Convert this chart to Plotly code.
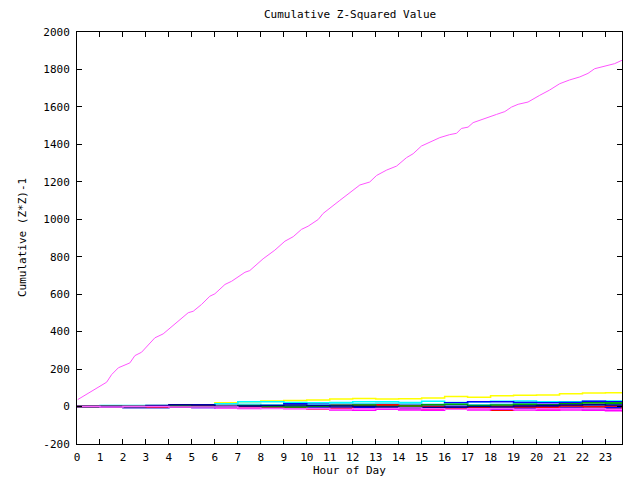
import plotly.graph_objects as go

# ---- data ----
hours = [0, 1, 2, 3, 4, 5, 6, 7, 8, 9, 10, 11, 12, 13, 14, 15, 16, 17, 18, 19, 20, 21, 22, 23, 23.72]

big_x = [0.03, 0.64, 1.29, 1.51, 1.80, 2.30, 2.52, 2.81, 3.39, 3.75, 4.26, 4.84, 5.06, 5.42, 5.78,
         6.00, 6.44, 6.73, 7.31, 7.52, 8.10, 8.61, 9.05, 9.41, 9.77, 10.06, 10.50, 10.71, 11.44,
         11.88, 12.31, 12.74, 13.04, 13.48, 13.91, 14.34, 14.63, 14.99, 15.36, 15.79, 16.22,
         16.52, 16.73, 17.02, 17.24, 17.82, 18.26, 18.62, 18.91, 19.20, 19.63, 20.14, 20.57,
         21.01, 21.44, 21.88, 22.24, 22.53, 23.11, 23.40, 23.72]
big_y = [37, 82, 130, 171, 207, 233, 272, 290, 367, 388, 443, 501, 509, 545, 589,
         602, 652, 669, 717, 726, 789, 835, 883, 907, 946, 963, 999, 1031, 1101,
         1142, 1183, 1199, 1234, 1263, 1284, 1329, 1350, 1391, 1412, 1436, 1452,
         1459, 1485, 1492, 1516, 1543, 1560, 1575, 1599, 1614, 1626, 1662, 1690,
         1724, 1744, 1760, 1779, 1804, 1822, 1831, 1849]

small_series = {
    "yellow":     [0, -2, -2, 0, 2, 8, 20, 25, 30, 32, 35, 40, 43, 40, 42, 45, 53, 50, 58, 60, 62, 68, 72, 73, 73],
    "cyan":       [0, 5, 5, 5, 5, 5, 15, 25, 25, 22, 20, 22, 25, 25, 22, 28, 22, 25, 28, 30, 25, 25, 28, 30, 30],
    "blue":       [0, 0, -5, -5, 5, 10, 5, 8, 10, 15, 12, 12, 10, 5, 8, 10, 20, 25, 25, 22, 20, 22, 28, 26, 20],
    "navy":       [0, 2, -5, -5, 0, 5, -3, -5, -8, -5, 0, -5, -8, -5, -10, -8, -5, -5, -5, -3, 0, -5, -10, -12, -10],
    "red":        [0, 0, -3, 0, 2, 0, 5, 10, 5, 0, -8, -15, -5, 5, -2, -15, -10, -10, -20, -10, -18, -5, -10, -15, -25],
    "green":      [0, 0, 0, 0, 0, 2, 0, -3, 5, 0, 3, -5, 2, -5, -3, 5, 2, 8, 10, 5, 8, 15, 18, 20, 15],
    "magenta":    [0, 0, 2, 3, 0, -5, -8, -10, -5, -10, -12, -18, -20, -15, -18, -20, -15, -18, -15, -18, -20, -18, -20, -22, -22],
    "pink":       [0, -3, -3, -3, -3, 0, -5, -3, -5, -5, -5, -8, -3, -5, 0, 2, -3, 5, 8, 10, 12, 15, 12, 10, 12],
    "periwinkle": [0, 3, 0, 2, 0, 0, -2, 0, 3, 5, 3, 8, 10, 12, 8, 5, 3, 5, 10, 8, 12, 10, 5, 8, 5],
    "darkred":    [0, 0, 2, 0, -3, 0, 5, -2, 0, 3, 5, 10, 12, 8, 5, 0, -5, -8, -3, 0, 5, 3, 0, -3, -5],
    "blue2":      [0, -2, -3, -3, -3, -5, -3, -5, -3, -2, -5, -8, -5, -3, -5, -5, -8, -5, -10, -8, -5, -8, -10, -5, -8],
    "cyan2":      [0, 2, 3, 3, 2, 3, 8, 12, 10, 8, 10, 15, 15, 18, 15, 12, 15, 10, 12, 15, 10, 12, 8, 10, 10],
    "red2":       [0, 0, 0, -2, 0, 3, 0, -5, -3, -8, -12, -10, 5, 8, 3, -3, -12, -5, 2, -3, -5, 5, 0, 3, -15],
    "green2":     [0, 0, 0, 2, 3, 0, -3, 5, 0, -3, 0, 5, 8, 0, 3, 10, 12, 5, 8, 12, 10, 15, 20, 18, 18],
    "navy2":      [0, 0, 0, 5, 10, 8, 0, 3, 5, 8, 5, 3, 0, -3, -8, -5, -3, 0, -2, 3, 5, 8, 10, 8, 5],
    "pink2":      [0, -2, 0, 0, -2, -3, -2, -8, -10, -12, -10, -15, -12, -10, -8, -12, -15, -12, -10, -15, -12, -10, -12, -15, -12],
}

colors = {
    "yellow": "#ffff00", "cyan": "#00ffff", "blue": "#0000ff", "navy": "#0000a0",
    "red": "#ff0000", "green": "#00c000", "magenta": "#ff00ff", "pink": "#ff80ff",
    "periwinkle": "#6060ff", "darkred": "#c00000", "blue2": "#0000ff", "cyan2": "#40e0ff",
    "red2": "#ff0000", "green2": "#00a000", "navy2": "#000090", "pink2": "#ff60ff",
}

y_ticks = list(range(-200, 2001, 200))
x_ticks = list(range(0, 24))

fig = go.Figure()
fig.add_trace(go.Scatter(x=big_x, y=big_y, mode="lines",
                         line=dict(color="#ff55ff", width=1), showlegend=False))
for name, vals in small_series.items():
    fig.add_trace(go.Scatter(x=hours, y=vals, mode="lines", line_shape="hv",
                             line=dict(color=colors[name], width=1.5), showlegend=False))

font = dict(family="DejaVu Sans Mono", size=11, color="black")
axis_common = dict(showgrid=False, zeroline=False, showline=True, linecolor="black",
                   linewidth=1, mirror="ticks", ticks="inside", ticklen=5,
                   tickcolor="black", tickfont=font)

# plot area pixels: left 77, right 622, top 32, bottom 444
PW, PH = 545, 412

fig.update_layout(
    width=640, height=480,
    margin=dict(l=77, r=18, t=32, b=36),
    paper_bgcolor="white", plot_bgcolor="white",
    xaxis=dict(range=[0, 23.72], tickvals=x_ticks, ticktext=[str(v) for v in x_ticks],
               ticklabelstandoff=3, **axis_common),
    yaxis=dict(range=[-200, 2000], tickvals=y_ticks, ticktext=[str(v) for v in y_ticks],
               ticklabelstandoff=4, **axis_common),
    annotations=[
        dict(text="Cumulative Z-Squared Value", x=0.5, xref="paper",
             y=(444 - 15) / PH, yref="paper", yanchor="middle", showarrow=False, font=font),
        dict(text="Hour of Day", x=0.5, xref="paper", y=(444 - 470) / PH, yref="paper",
             yanchor="middle", showarrow=False, font=font),
        dict(text="Cumulative (Z*Z)-1", x=(22 - 77) / PW, xref="paper",
             y=0.5, yref="paper", textangle=-90, showarrow=False, font=font,
             xanchor="center", yanchor="middle"),
    ],
)

fig.write_html("out.html")
